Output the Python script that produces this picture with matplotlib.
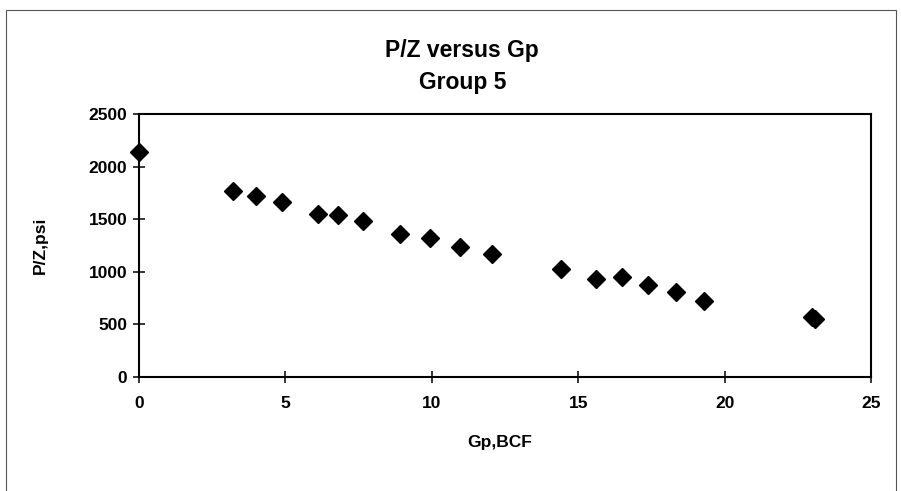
import numpy as np
import matplotlib.pyplot as plt
from matplotlib.patches import Rectangle

plt.rcParams['font.family'] = ['Liberation Sans', 'DejaVu Sans']

# data
gp = [0.0, 3.2, 4.0, 4.9, 6.1, 6.8, 7.65, 8.9, 9.95, 10.95, 12.05,
      14.4, 15.6, 16.5, 17.4, 18.35, 19.3, 23.0, 23.1]
pz = [2140, 1770, 1720, 1665, 1550, 1540, 1485, 1360, 1320, 1235, 1170,
      1025, 930, 950, 870, 810, 725, 575, 555]
x_ticks = [0, 5, 10, 15, 20, 25]
y_ticks = [0, 500, 1000, 1500, 2000, 2500]

fig = plt.figure(figsize=(9.01, 4.91), dpi=100)
ax = fig.add_axes([0.1543, 0.2322, 0.8124, 0.5356])

ax.plot(gp, pz, linestyle='none', marker='D', markersize=9, color='black',
        clip_on=False)

ax.set_xlim(0, 25)
ax.set_ylim(0, 2500)
ax.set_xticks(x_ticks)
ax.set_yticks(y_ticks)
ax.tick_params(direction='inout', length=9, width=1.1, labelsize=12.5)
ax.tick_params(axis='y', pad=4)
ax.tick_params(axis='x', pad=9)
for lab in ax.get_xticklabels() + ax.get_yticklabels():
    lab.set_fontweight('bold')
for s in ax.spines.values():
    s.set_linewidth(1.5)

ax.set_xlabel('Gp,BCF', fontsize=12.5, fontweight='bold')
ax.xaxis.set_label_coords(0.493, -0.222)
ax.set_ylabel('P/Z,psi', fontsize=12.5, fontweight='bold')
ax.yaxis.set_label_coords(-0.125, 0.5)

# title lines
fig.text(0.513, 1 - 57 / 491, 'P/Z versus Gp', ha='center', va='baseline',
         fontsize=16.5, fontweight='bold')
fig.text(0.513, 1 - 89 / 491, 'Group 5', ha='center', va='baseline',
         fontsize=16.5, fontweight='bold')

# outer chart border
fig.patches.append(Rectangle((0.007, -0.02), 0.988, 1.0, transform=fig.transFigure,
                             fill=False, edgecolor='#555555', linewidth=0.8))

fig.savefig('out.png', dpi=100)
